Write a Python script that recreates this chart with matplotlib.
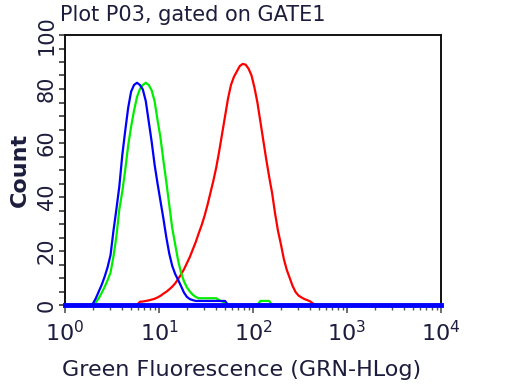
import numpy as np
import matplotlib
matplotlib.use("Agg")
import matplotlib.pyplot as plt
from matplotlib.ticker import LogLocator, LogFormatterMathtext, MultipleLocator, NullFormatter

# ========================
# Datos leidos del histograma (canales de 1/32 de decada, 1 .. 10^4)
# ========================
n_channels = 128
blue_start = 9
blue_counts = [0.5, 2.5, 5, 7.5, 10.5, 14, 18.5, 27.5, 35.5, 44, 55.5, 64.5, 73, 79,
               81.5, 82.3, 81.5, 79.8, 75.5, 68, 60.5, 52, 45, 38.5, 32, 25, 19,
               14.5, 11.5, 9.3, 7, 4.6, 3, 2.2, 1.8, 1.5, 1.5, 1.5, 1.5, 1.5, 1.5,
               1.5, 1.5, 1.5, 1.5, 1.5]
green_start = 10
green_counts = [1, 2.5, 4.5, 6.7, 9.2, 12, 18, 25.5, 35.5, 42, 50, 59, 66, 72, 77, 80,
                81.5, 82.3, 81.5, 79.5, 75.5, 68.5, 62, 53.5, 45.5, 37, 28.5, 22.5,
                16.5, 12, 8.8, 6.5, 5, 3.8, 3, 2.5, 2.5, 2.5, 2.5, 2.5, 2.5, 2.5,
                1.8, 1.3, 1, 0, 0, 0, 0, 0, 0, 0, 0, 0, 0, 0, 1.5, 1.5, 1.5, 1.5]
red_start = 25
red_counts = [1.2, 1.3, 1.5, 1.7, 2, 2.3, 2.8, 3.4, 4.2, 4.9, 5.8, 6.8, 8, 9.6, 11.3,
              13.2, 15.5, 17.8, 20.5, 23.3, 26.5, 29.5, 33, 37, 41.5, 46, 51, 57,
              63.5, 70, 76.5, 81.5, 84.5, 86.5, 88.5, 89.3, 89, 87.5, 85, 80.5, 75,
              68, 61, 54, 47.5, 41.5, 34, 27.5, 22.5, 17, 13, 10, 7, 4.8, 3.5, 2.8,
              2.2, 1.8, 1.3, 0.5]

centers = np.logspace(0, 4, 2 * n_channels + 1)[1::2]


def full_hist(start, counts):
    h = np.zeros(n_channels)
    h[start:start + len(counts)] = counts
    return h


fig = plt.figure(figsize=(5.12, 3.84), dpi=100)
ax = fig.add_axes([65 / 512, 1 - 305 / 384, 376 / 512, 270 / 384])

ax.plot(centers, full_hist(red_start, red_counts), color='#ff0000', lw=1.6, clip_on=False, zorder=3)
ax.plot(centers, full_hist(green_start, green_counts), color='#00ee00', lw=1.6, clip_on=False, zorder=4)
ax.plot(centers, full_hist(blue_start, blue_counts), color='#0000ff', lw=1.6, clip_on=False, zorder=5)
# banda azul gruesa sobre el eje
ax.axhline(0, color='#0000ff', lw=3.5, clip_on=False, zorder=6)

ax.set_xscale('log')
ax.set_xlim(1, 1e4)
ax.set_ylim(0, 100)

txt = '#1c1c3c'
ax.xaxis.set_major_locator(LogLocator(base=10))
ax.xaxis.set_major_formatter(LogFormatterMathtext())
ax.xaxis.set_minor_locator(LogLocator(base=10, subs=np.arange(2, 10)))
ax.xaxis.set_minor_formatter(NullFormatter())
ax.yaxis.set_major_locator(MultipleLocator(20))
ax.yaxis.set_minor_locator(MultipleLocator(5))

ax.tick_params(axis='x', which='major', length=6, width=1.2, color='#555555', labelsize=16, labelcolor=txt, pad=5)
ax.tick_params(axis='x', which='minor', length=3.5, width=1.0, color='#555555')
ax.tick_params(axis='y', which='major', length=4, width=1.4, color='#555555', labelsize=15, labelcolor=txt, pad=2)
ax.tick_params(axis='y', which='minor', length=4, width=1.4, color='#555555')
for lab in ax.get_yticklabels():
    lab.set_rotation(90)
    lab.set_va('center')

for s in ax.spines.values():
    s.set_linewidth(1.4)
    s.set_color('#111111')

ax.set_xlabel('Green Fluorescence (GRN-HLog)', fontsize=16, color=txt)
ax.xaxis.set_label_coords(0.47, -0.205)
ax.set_ylabel('Count', fontsize=16, fontweight='bold', color=txt, labelpad=5)
fig.text(60 / 512, 1 - 15 / 384, 'Plot P03, gated on GATE1', fontsize=15, color=txt, va='center', ha='left')

fig.savefig('out.png', dpi=100)
